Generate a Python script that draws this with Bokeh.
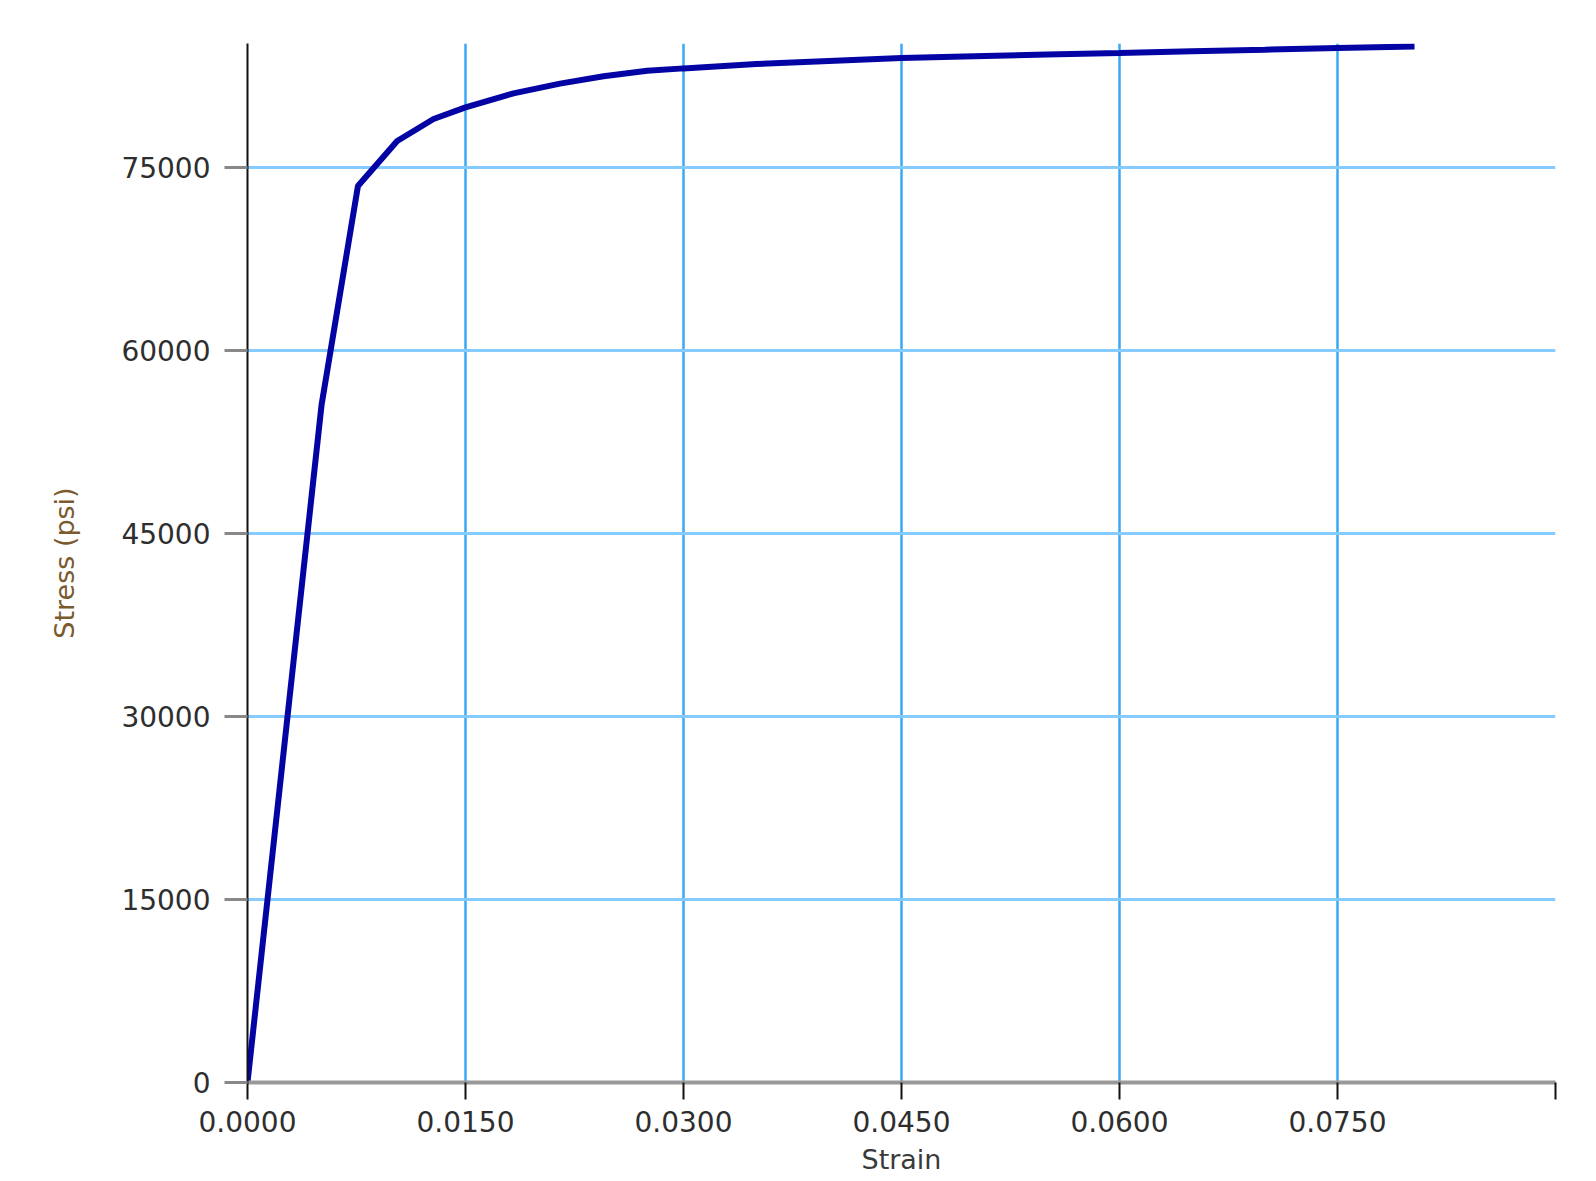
from bokeh.plotting import figure
from bokeh.models import Range1d, FixedTicker, CustomJSTickFormatter, NumeralTickFormatter
from bokeh.embed import file_html
from bokeh.resources import INLINE

# Data
strain = [0.0, 0.0051, 0.0076, 0.0103, 0.0128, 0.0150, 0.0183, 0.0215, 0.0245,
          0.0275, 0.0300, 0.0350, 0.0400, 0.0450, 0.0500, 0.0550, 0.0600,
          0.0650, 0.0700, 0.0750, 0.0803]
stress = [0, 55600, 73500, 77200, 79000, 79950, 81100, 81900, 82500,
          82950, 83150, 83500, 83750, 84000, 84150, 84280, 84410,
          84550, 84680, 84820, 84950]

x_ticks = [0.0, 0.015, 0.030, 0.045, 0.060, 0.075, 0.090]
y_ticks = [0, 15000, 30000, 45000, 60000, 75000]

p = figure(frame_width=1308, frame_height=1039,
           x_range=Range1d(0, 0.09), y_range=Range1d(0, 85190),
           output_backend="svg", toolbar_location=None,
           min_border_left=247, min_border_top=43, min_border_right=20,
           min_border_bottom=80)
p.title.visible = False
p.outline_line_color = None
p.background_fill_color = "white"
p.border_fill_color = "white"

# grids
p.xgrid.ticker = FixedTicker(ticks=x_ticks)
p.ygrid.ticker = FixedTicker(ticks=y_ticks)
p.xgrid.grid_line_color = "#3aa8f5"
p.xgrid.grid_line_width = 2.5
p.ygrid.grid_line_color = "#86cbff"
p.ygrid.grid_line_width = 3

# x axis
xa = p.xaxis[0]
xa.ticker = FixedTicker(ticks=x_ticks)
xa.formatter = CustomJSTickFormatter(code="return tick > 0.085 ? '' : tick.toFixed(4);")
xa.axis_line_color = "#999999"
xa.axis_line_width = 4
xa.major_tick_line_color = "#111111"
xa.major_tick_line_width = 2
xa.major_tick_out = 17
xa.major_tick_in = 0
xa.minor_tick_line_color = None
xa.major_label_text_font = "DejaVu Sans"
xa.major_label_text_font_size = "28px"
xa.major_label_text_color = "#2e2e2e"
xa.major_label_standoff = 11
xa.axis_label = "Strain"
xa.axis_label_text_font = "DejaVu Sans"
xa.axis_label_text_font_size = "27px"
xa.axis_label_text_font_style = "normal"
xa.axis_label_text_color = "#3a3a3a"
xa.axis_label_standoff = 9

# y axis
ya = p.yaxis[0]
ya.ticker = FixedTicker(ticks=y_ticks)
ya.formatter = NumeralTickFormatter(format="0")
ya.axis_line_color = "#111111"
ya.axis_line_width = 2
ya.major_tick_line_color = "#888888"
ya.major_tick_line_width = 3
ya.major_tick_out = 23
ya.major_tick_in = 0
ya.minor_tick_line_color = None
ya.major_label_text_font = "DejaVu Sans"
ya.major_label_text_font_size = "28px"
ya.major_label_text_color = "#2e2e2e"
ya.major_label_standoff = 14
ya.axis_label = "Stress (psi)"
ya.axis_label_text_font = "DejaVu Sans"
ya.axis_label_text_font_size = "27px"
ya.axis_label_text_font_style = "normal"
ya.axis_label_text_color = "#7a5a2e"
ya.axis_label_standoff = 38

p.line(strain, stress, line_color="#0404a4", line_width=6)

open("out.html", "w").write(file_html(p, INLINE))
